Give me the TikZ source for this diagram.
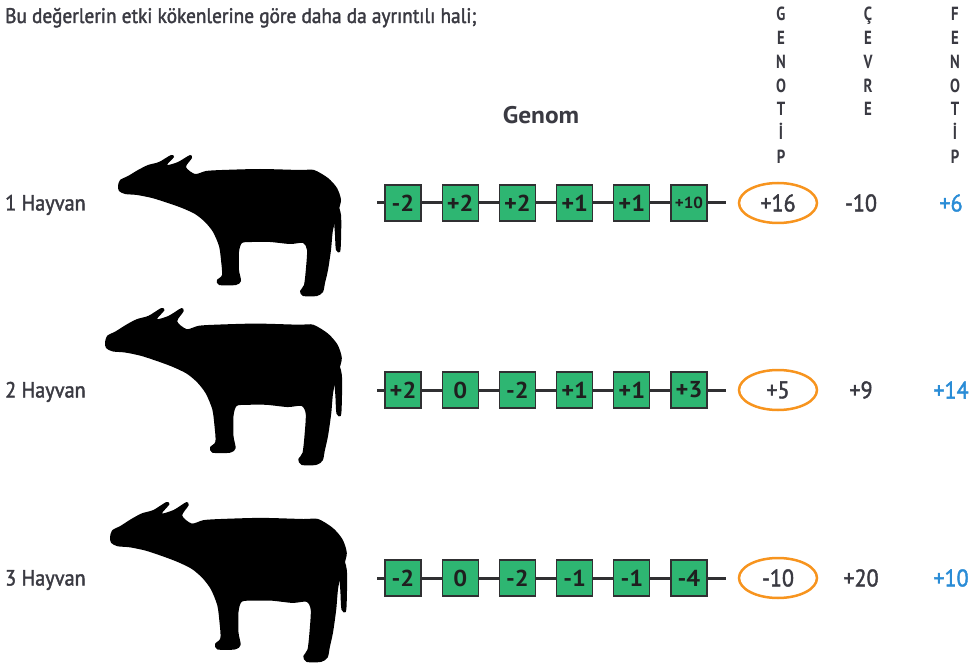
\documentclass[tikz,border=0pt]{standalone}
\usepackage{fontspec}
\setmainfont{PT Sans}
\newfontfamily\narrowfont{PT Sans}[FakeStretch=0.92, UprightFeatures={FakeBold=1.8}]
\newfontfamily\letterfont{PT Sans Bold}[FakeStretch=0.78]
\newfontfamily\genefont{PT Sans Bold}[FakeStretch=1.06]

\definecolor{inkgray}{RGB}{58,58,66}
\definecolor{genegreen}{RGB}{46,182,114}
\definecolor{chaingray}{RGB}{48,48,50}
\definecolor{ringorange}{RGB}{247,148,30}
\definecolor{phenoblue}{RGB}{42,140,214}
\usetikzlibrary{shapes.geometric}

\tikzset{
  gene/.style={draw=chaingray, line width=1.2pt, fill=genegreen,
    minimum width=36pt, minimum height=36pt, inner sep=0pt,
    text=black!88, font=\genefont\fontsize{23}{23}\selectfont},
  chain/.style={draw=chaingray, line width=3pt},
  ring/.style={ellipse, draw=ringorange, line width=2.5pt,
    minimum width=78pt, minimum height=40pt, inner sep=0pt},
  value/.style={text=inkgray, font=\narrowfont\fontsize{24}{24}\selectfont},
  pheno/.style={value, text=phenoblue},
  rowlabel/.style={anchor=base west, inner sep=0pt, text=inkgray,
    font=\narrowfont\fontsize{22}{22}\selectfont},
  colletter/.style={anchor=base, inner sep=0pt, text=inkgray,
    font=\letterfont\fontsize{19}{19}\selectfont},
  silhouette/.style={fill=black}
}

\newcommand\smallnum[1]{{\fontsize{16}{16}\selectfont #1}}

% outline of a standing buffalo, in the frame of the first animal
\newcommand\buffalo{%
  \fill[silhouette] plot[smooth cycle, tension=0.45] coordinates {
    (118,186) (120,180) (128,176) (138,170) (148,165) (159,162)
    (171,155) (174,157) (167,165) (178,162) (190,155) (192,158)
    (186,167) (195,174) (206,171) (222,170) (260,169) (300,170)
    (314,170) (328,178) (337,188) (341,200) (338,212) (333,230)
    (331,250) (328,270) (325,283) (323,292) (317,296) (303,296)
    (300,291) (304,285) (306,268) (307,250) (303,243) (290,244)
    (270,242) (252,242) (242,243) (239,252) (239,270) (241,281)
    (236,285) (219,285) (217,280) (222,275) (221,260) (219,246)
    (213,232) (205,222) (195,214) (182,208) (168,203) (152,198)
    (137,195) (125,194) (119,191)};
  \fill[silhouette] plot[smooth cycle, tension=0.5] coordinates {
    (337,204) (341,215) (341,240) (340,252) (336,250) (335,235) (334,215)};
}

\begin{document}
\begin{tikzpicture}[x=1pt, y=-1pt]
\useasboundingbox (0,0) rectangle (974,668);

% heading
\node[anchor=base west, inner sep=0pt, text=inkgray,
      font=\narrowfont\fontsize{21}{21}\selectfont] (title) at (5,23)
  {Bu değerlerin etki kökenlerine göre daha da ayrıntılı hali;};

\node[text=inkgray, font=\genefont\fontsize{24}{24}\selectfont] (genom) at (541,115) {Genom};

% vertical column headings
\foreach \ch [count=\k] in {G,E,N,O,T,İ,P}
  \node[colletter] (geno-\k) at (781,{21+23.7*(\k-1)}) {\ch};
\foreach \ch [count=\k] in {Ç,E,V,R,E}
  \node[colletter] (env-\k) at (868,{21+23.7*(\k-1)}) {\ch};
\foreach \ch [count=\k] in {F,E,N,O,T,İ,P}
  \node[colletter] (feno-\k) at (955,{21+23.7*(\k-1)}) {\ch};

% animals
\buffalo
\begin{scope}[shift={(105,308)}, xscale=1.062, yscale=1.113, shift={(-118,-155)}]
  \buffalo
\end{scope}
\begin{scope}[shift={(110,502)}, xscale=1.062, yscale=1.134, shift={(-118,-155)}]
  \buffalo
\end{scope}

% one row per animal: label, gene chain, genotype, environment, phenotype
\foreach \r/\y/\genes/\gv/\cv/\fv in {
    1/203/{-2,+2,+2,+1,+1,\smallnum{+10}}/+16/-10/+6,
    2/390/{+2,0,-2,+1,+1,+3}/+5/+9/+14,
    3/578/{-2,0,-2,-1,-1,-4}/-10/+20/+10} {
  \node[rowlabel] (label-\r) at (5,\y+7.5) {\r\ Hayvan};
  \coordinate (start-\r) at (377,\y);
  \coordinate (end-\r) at (726,\y);
  \foreach \g [count=\i] in \genes
    \node[gene] (g\r-\i) at ({403+57.2*(\i-1)},\y) {\g};
  \draw[chain] (start-\r) -- (g\r-1);
  \foreach \i [evaluate=\i as \j using int(\i+1)] in {1,...,5}
    \draw[chain] (g\r-\i) -- (g\r-\j);
  \draw[chain] (g\r-6) -- (end-\r);
  \node[ring] (ring-\r) at (778,\y) {};
  \node[value] (geno-val-\r) at (778,\y) {\gv};
  \node[value] (env-val-\r) at (861,\y) {\cv};
  \node[pheno] (feno-val-\r) at (951,\y) {\fv};
}
\end{tikzpicture}
\end{document}
